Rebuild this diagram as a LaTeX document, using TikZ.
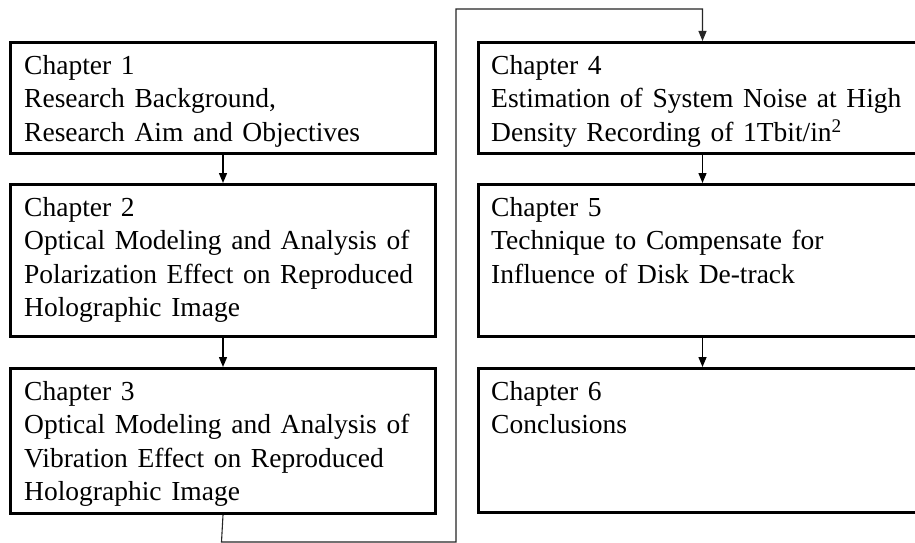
\documentclass[tikz,border=0pt]{standalone}
\usepackage{fontspec}
\setmainfont{Liberation Serif}[WordSpace={1.4,0,0}]
\usetikzlibrary{arrows.meta,calc}
\begin{document}
\begin{tikzpicture}[x=1pt,y=-1pt,
  chbox/.style={draw=black,line width=3pt,rectangle,inner sep=0pt,anchor=north west},
  chtext/.style={anchor=north west,inner sep=0pt,align=left,font=\fontsize{27.5}{33.5}\selectfont},
  flow/.style={line width=1.4pt,-{Triangle[length=10pt,width=8pt]}},
  loop/.style={line width=1.1pt,draw=black!85,-{Triangle[length=10pt,width=8pt]}}]
\useasboundingbox (0,0) rectangle (915,543);
\clip (0,0) rectangle (915,543);
\fill[white] (0,0) rectangle (915,543);
% left column
\node[chbox,minimum width=425pt,minimum height=111pt] (b1) at (9,41) {};
\node[chbox,minimum width=425pt,minimum height=152pt] (b2) at (9,183) {};
\node[chbox,minimum width=425pt,minimum height=145pt] (b3) at (9,367) {};
% right column
\node[chbox,minimum width=448pt,minimum height=111pt] (b4) at (477,41) {};
\node[chbox,minimum width=448pt,minimum height=152pt] (b5) at (477,183) {};
\node[chbox,minimum width=448pt,minimum height=144pt] (b6) at (477,367) {};
% texts
\node[chtext] (t1) at ($(b1.north west)+(15,9.5)$) {\strut Chapter 1\\Research Background,\\Research Aim and Objectives};
\node[chtext] (t2) at ($(b2.north west)+(15,9.5)$) {\strut Chapter 2\\Optical Modeling and Analysis of\\Polarization Effect on Reproduced\\Holographic Image};
\node[chtext] (t3) at ($(b3.north west)+(15,9.5)$) {\strut Chapter 3\\Optical Modeling and Analysis of\\Vibration Effect on Reproduced\\Holographic Image};
\node[chtext] (t4) at ($(b4.north west)+(14,9.5)$) {\strut Chapter 4\\Estimation of System Noise at High\\Density Recording of 1Tbit/in\textsuperscript{2}};
\node[chtext] (t5) at ($(b5.north west)+(14,9.5)$) {\strut Chapter 5\\Technique to Compensate for\\Influence of Disk De-track};
\node[chtext] (t6) at ($(b6.north west)+(14,9.5)$) {\strut Chapter 6\\Conclusions};
% connectors
\draw[flow] (b1.south) -- (b2.north);
\draw[flow] (b2.south) -- (b3.north);
\draw[flow] (b4.south) -- (b5.north);
\draw[flow] (b5.south) -- (b6.north);
\coordinate (c1) at (221.5,542);
\coordinate (c2) at (456,9);
\draw[loop] (b3.south) -- (c1) -| (c2) -| (b4.north);
\end{tikzpicture}
\end{document}
